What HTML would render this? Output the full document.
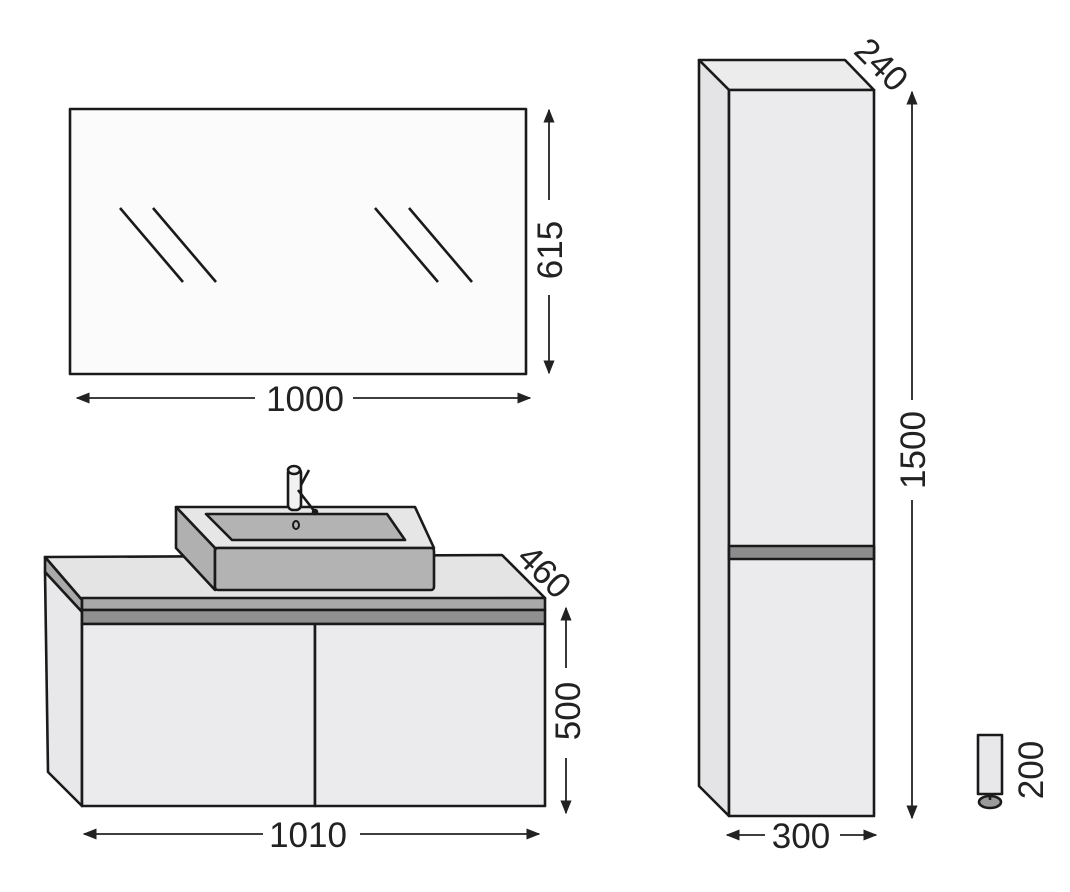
<!DOCTYPE html>
<html><head><meta charset="utf-8"><style>html,body{margin:0;padding:0;background:#fff}svg{display:block}text{font-family:"Liberation Sans",sans-serif;font-size:35px;fill:#222}</style></head>
<body>
<svg width="1070" height="892" viewBox="0 0 1070 892" xmlns="http://www.w3.org/2000/svg">
<defs><marker id="a" viewBox="0 0 10 10" refX="9" refY="5" markerWidth="14" markerHeight="14" markerUnits="userSpaceOnUse" orient="auto"><path d="M0,1 L10,5 L0,9 Z" fill="#222"/></marker></defs>
<g stroke="#1a1a1a" stroke-width="2.6" stroke-linejoin="round">
<rect x="70" y="109" width="456" height="265" fill="#fbfbfb"/>
<g stroke-width="2.6"><line x1="120" y1="208" x2="183" y2="282"/><line x1="153" y1="208" x2="216" y2="282"/><line x1="375" y1="208" x2="438" y2="282"/><line x1="409" y1="208" x2="472" y2="282"/></g>
<polygon points="45,557 502,555 545,598 82,600" fill="#e4e4e4"/>
<polygon points="45,557 82,600 82,612 45,572" fill="#a9a9a9"/>
<polygon points="45,572 82,612 82,806 48,772" fill="#e8e8ea"/>
<rect x="82" y="598" width="463" height="12" fill="#a9a9a9"/>
<rect x="82" y="610" width="463" height="14" fill="#909090"/>
<rect x="82" y="624" width="233" height="182" fill="#ebebed"/>
<rect x="315" y="624" width="230" height="182" fill="#ebebed"/>
<polygon points="176,507 415,507 434,548 215,548" fill="#e6e6e6"/>
<polygon points="206,514 387,514 405,540 232,540" fill="#b3b3b3"/>
<polygon points="176,507 215,548 215,590 176,548" fill="#b0b0b0"/>
<rect x="215" y="548" width="219" height="42" rx="3" fill="#b3b3b3"/>
<ellipse cx="296" cy="525" rx="3" ry="4" fill="none" stroke-width="2"/>
<rect x="288" y="468" width="13" height="42" rx="5" fill="#f2f2f2"/>
<ellipse cx="294" cy="470" rx="6" ry="4" fill="#f2f2f2"/>
<line x1="309" y1="470" x2="301" y2="485"/>
<line x1="298" y1="490" x2="315" y2="512"/>
<circle cx="315" cy="512" r="2" fill="#1a1a1a"/>
<polygon points="699,60 845,60 874,90 729,90" fill="#ececec"/>
<polygon points="699,60 729,90 729,816 699,786" fill="#e4e4e6"/>
<rect x="729" y="90" width="145" height="726" fill="#ebebed"/>
<rect x="729" y="546" width="145" height="13" fill="#8c8c8c"/>
<ellipse cx="990" cy="802" rx="11" ry="6" fill="#9a9a9a"/>
<line x1="990" y1="794" x2="990" y2="800"/>
<rect x="978" y="735" width="24" height="59" fill="#e8e8ea"/>
</g>
<g stroke="#222" stroke-width="1.8" fill="none">
<line x1="549" y1="200" x2="549" y2="110" marker-end="url(#a)"/>
<line x1="549" y1="295" x2="549" y2="373" marker-end="url(#a)"/>
<line x1="255" y1="398" x2="77" y2="398" marker-end="url(#a)"/>
<line x1="353" y1="398" x2="530" y2="398" marker-end="url(#a)"/>
<line x1="566" y1="668" x2="566" y2="608" marker-end="url(#a)"/>
<line x1="566" y1="758" x2="566" y2="813" marker-end="url(#a)"/>
<line x1="263" y1="834" x2="84" y2="834" marker-end="url(#a)"/>
<line x1="360" y1="834" x2="539" y2="834" marker-end="url(#a)"/>
<line x1="912" y1="400" x2="912" y2="92" marker-end="url(#a)"/>
<line x1="912" y1="500" x2="912" y2="818" marker-end="url(#a)"/>
<line x1="765" y1="835" x2="727" y2="835" marker-end="url(#a)"/>
<line x1="840" y1="835" x2="876" y2="835" marker-end="url(#a)"/>
</g>
<text x="305" y="411" text-anchor="middle">1000</text>
<text x="308" y="847" text-anchor="middle">1010</text>
<text x="801" y="848" text-anchor="middle">300</text>
<text transform="translate(562,250) rotate(-90)" text-anchor="middle">615</text>
<text transform="translate(580,711) rotate(-90)" text-anchor="middle">500</text>
<text transform="translate(925,450) rotate(-90)" text-anchor="middle">1500</text>
<text transform="translate(1043,770) rotate(-90)" text-anchor="middle">200</text>
<text transform="translate(536,580) rotate(45)" text-anchor="middle">460</text>
<text transform="translate(873,73) rotate(45)" text-anchor="middle">240</text>
</svg>
</body></html>
